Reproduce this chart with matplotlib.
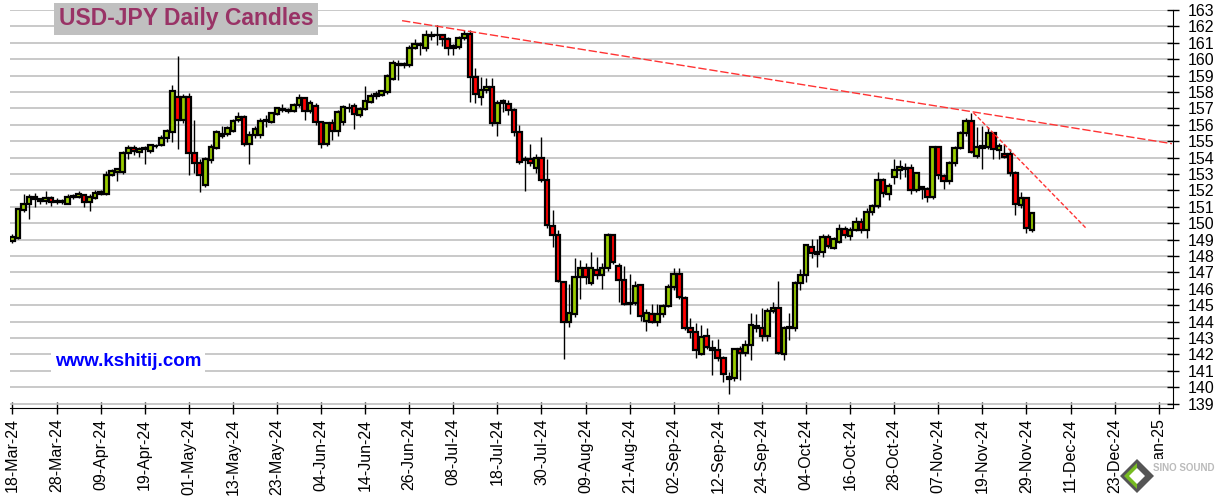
import numpy as np
import matplotlib
matplotlib.use('Agg')
import matplotlib.pyplot as plt
from matplotlib.patches import Polygon, Rectangle

plt.rcParams['font.family'] = ['Liberation Sans', 'DejaVu Sans']

# daily USD-JPY candles, one per weekday starting 18-Mar-24
opens = [
    148.9, 149.1, 150.8, 151.17, 151.6, 151.45, 151.35, 151.55, 151.3, 151.35,
    151.2, 151.6, 151.6, 151.7, 151.3, 151.55, 151.8, 151.8, 152.95, 153.15,
    153.1, 154.25, 154.6, 154.35, 154.55, 154.4, 154.68, 154.75, 155.2, 155.55,
    157.7, 156.3, 157.7, 154.3, 153.7, 152.3, 153.87, 154.6, 155.46, 155.46,
    155.6, 156.32, 156.46, 154.8, 155.35, 155.35, 156.25, 156.2, 156.68, 156.9,
    156.93, 156.82, 157.23, 157.64, 156.82, 157.13, 156.15, 154.83, 156.11, 155.64,
    156.15, 157.05, 157.13, 156.58, 156.99, 157.4, 157.74, 157.84, 157.99, 158.82,
    159.7, 159.65, 159.63, 160.7, 160.85, 160.68, 161.4, 161.5, 161.5, 161.25,
    160.7, 160.75, 161.3, 161.55, 158.92, 157.67, 158.1, 158.3, 156.13, 157.34,
    157.26, 156.9, 155.58, 153.9, 153.9, 153.36, 154.0, 152.66, 149.82, 149.27,
    146.43, 143.98, 144.47, 146.74, 147.25, 146.35, 147.14, 146.84, 147.25, 149.27,
    147.39, 146.54, 145.15, 145.12, 146.23, 144.06, 144.47, 143.96, 144.47, 144.97,
    146.13, 146.9, 145.46, 143.63, 143.39, 142.03, 143.15, 142.38, 142.28, 141.76,
    140.64, 140.54, 142.3, 142.1, 142.6, 143.72, 143.58, 143.12, 144.66, 144.8,
    142.0, 143.58, 143.58, 146.36, 146.87, 148.55, 148.25, 148.25, 149.16, 148.5,
    148.86, 149.67, 149.2, 149.57, 150.1, 149.57, 150.68, 151.03, 152.63, 151.78,
    152.83, 153.24, 153.38, 153.34, 152.02, 152.18, 152.06, 151.57, 154.62, 152.87,
    152.59, 153.69, 154.6, 155.48, 156.25, 154.1, 154.6, 154.66, 155.48, 154.46,
    154.2, 154.2, 153.08, 151.1, 151.55, 149.58]

highs = [
    149.35, 150.95, 151.8, 151.75, 151.85, 151.55, 151.95, 151.65, 151.55, 151.45,
    151.75, 151.75, 151.95, 151.8, 151.75, 152.0, 152.0, 153.2, 153.3, 153.35,
    154.4, 154.75, 154.75, 154.65, 154.7, 154.85, 154.85, 155.4, 155.75, 158.4,
    160.2, 157.9, 157.95, 156.3, 153.9, 154.05, 154.8, 155.7, 155.95, 155.95,
    156.35, 156.8, 156.6, 155.6, 155.9, 156.4, 156.6, 156.8, 157.1, 157.25,
    157.0, 157.35, 157.85, 157.7, 157.5, 157.35, 156.2, 156.2, 156.35, 156.9,
    157.2, 157.3, 157.35, 157.1, 158.35, 157.95, 158.05, 158.15, 159.1, 159.95,
    159.95, 159.85, 160.85, 161.25, 161.05, 161.75, 161.7, 162.1, 161.55, 161.35,
    160.95, 161.4, 161.75, 161.75, 159.45, 158.9, 158.85, 158.85, 157.5, 157.6,
    157.5, 157.05, 156.0, 154.1, 154.8, 154.2, 155.28, 153.9, 150.8, 149.6,
    146.5, 146.3, 147.85, 147.75, 147.6, 148.25, 147.95, 147.6, 149.4, 149.35,
    147.55, 147.4, 146.9, 146.5, 146.3, 144.75, 145.1, 145.05, 145.1, 146.3,
    147.25, 147.25, 145.55, 144.2, 143.9, 143.8, 143.6, 142.9, 142.95, 141.9,
    140.9, 142.35, 142.5, 142.9, 144.5, 144.45, 144.8, 144.8, 145.2, 146.45,
    143.7, 144.5, 146.5, 147.2, 148.75, 149.05, 149.05, 149.35, 149.35, 149.15,
    149.97, 149.8, 149.75, 150.35, 150.3, 150.95, 151.15, 153.1, 152.75, 152.45,
    153.9, 153.85, 153.65, 153.6, 153.1, 152.25, 152.2, 154.7, 154.7, 153.0,
    153.8, 154.7, 155.6, 156.4, 156.74, 155.85, 155.9, 155.85, 155.5, 154.9,
    154.8, 154.5, 153.2, 151.9, 151.6, 150.65]

lows = [
    148.82, 149.05, 150.7, 150.25, 151.0, 151.15, 151.2, 151.05, 151.15, 151.2,
    151.15, 151.45, 151.55, 151.0, 150.75, 151.5, 151.7, 151.7, 152.9, 152.6,
    153.0, 153.9, 154.15, 154.05, 153.6, 154.3, 154.6, 154.7, 154.95, 154.95,
    154.55, 156.1, 152.95, 153.05, 151.9, 152.2, 153.7, 154.5, 155.2, 155.3,
    155.55, 156.2, 154.7, 153.6, 155.2, 155.2, 155.85, 156.1, 156.6, 156.8,
    156.7, 156.75, 157.1, 156.3, 156.7, 156.0, 154.6, 154.7, 155.1, 155.3,
    156.0, 156.8, 155.75, 156.5, 156.9, 157.3, 157.6, 157.75, 157.9, 158.75,
    158.75, 159.45, 159.5, 160.6, 160.24, 160.5, 161.2, 160.85, 160.8, 160.24,
    160.24, 160.6, 161.2, 157.4, 157.35, 157.2, 157.95, 155.95, 155.3, 156.8,
    156.6, 155.3, 153.6, 151.94, 153.5, 153.05, 152.5, 149.7, 148.56, 146.4,
    141.7, 143.66, 144.3, 145.4, 146.3, 146.25, 146.6, 146.0, 147.1, 147.5,
    145.2, 145.0, 144.47, 145.0, 144.06, 143.4, 143.9, 143.7, 144.3, 144.9,
    145.9, 145.4, 143.5, 143.0, 141.77, 141.95, 142.3, 140.73, 141.6, 140.3,
    139.6, 140.35, 140.45, 141.9, 141.65, 143.35, 142.8, 142.8, 144.5, 142.0,
    141.65, 142.9, 143.4, 145.9, 146.4, 147.9, 147.35, 147.95, 148.5, 148.4,
    148.8, 149.1, 149.0, 149.5, 149.4, 149.07, 150.5, 150.9, 151.6, 151.4,
    152.4, 152.7, 152.8, 151.8, 151.9, 151.5, 151.3, 151.45, 152.7, 152.1,
    152.4, 153.5, 154.5, 155.3, 154.3, 154.0, 153.3, 154.5, 153.9, 153.9,
    154.0, 152.9, 150.5, 150.9, 149.4, 149.45]

closes = [
    149.15, 150.85, 151.15, 151.6, 151.45, 151.35, 151.55, 151.3, 151.35, 151.3,
    151.6, 151.65, 151.75, 151.3, 151.6, 151.85, 151.9, 152.95, 153.2, 153.3,
    154.25, 154.6, 154.4, 154.55, 154.6, 154.75, 154.72, 155.2, 155.6, 158.05,
    156.3, 157.7, 154.3, 153.7, 152.95, 153.9, 154.65, 155.55, 155.3, 155.8,
    156.25, 156.46, 154.8, 155.4, 155.75, 156.25, 156.3, 156.72, 157.03, 156.98,
    156.82, 157.23, 157.64, 156.82, 157.33, 156.15, 154.83, 156.11, 155.64, 156.76,
    157.07, 157.0, 156.68, 156.99, 157.44, 157.74, 157.88, 158.05, 159.0, 159.77,
    159.65, 159.7, 160.68, 160.9, 160.95, 161.5, 161.5, 161.45, 161.25, 160.68,
    160.8, 161.3, 161.55, 158.92, 157.87, 158.1, 158.3, 156.13, 157.34, 157.47,
    156.9, 155.58, 153.76, 153.85, 153.7, 153.96, 152.65, 149.88, 149.27, 146.47,
    143.98, 144.5, 146.74, 147.25, 146.74, 147.25, 146.84, 147.25, 149.27, 147.65,
    146.54, 145.08, 145.08, 146.17, 144.37, 144.55, 143.96, 144.47, 144.97, 146.13,
    146.9, 145.52, 143.63, 143.39, 142.28, 143.09, 142.44, 142.28, 141.77, 140.8,
    140.5, 142.3, 142.1, 142.6, 143.79, 143.58, 143.12, 144.66, 144.8, 142.1,
    143.58, 143.68, 146.36, 146.87, 148.65, 148.19, 148.15, 149.16, 148.6, 149.06,
    149.67, 149.3, 149.57, 150.1, 149.57, 150.68, 151.03, 152.63, 151.82, 152.26,
    153.24, 153.4, 153.28, 152.02, 153.04, 152.06, 151.57, 154.62, 152.93, 152.59,
    153.69, 154.6, 155.48, 156.25, 154.36, 154.62, 154.7, 155.48, 154.5, 154.7,
    154.05, 153.08, 151.15, 151.55, 149.72, 150.6]

# x tick labels, every 8th weekday
tick_labels = ['18-Mar-24', '28-Mar-24', '09-Apr-24', '19-Apr-24', '01-May-24',
               '13-May-24', '23-May-24', '04-Jun-24', '14-Jun-24', '26-Jun-24',
               '08-Jul-24', '18-Jul-24', '30-Jul-24', '09-Aug-24', '21-Aug-24',
               '02-Sep-24', '12-Sep-24', '24-Sep-24', '04-Oct-24', '16-Oct-24',
               '28-Oct-24', '07-Nov-24', '19-Nov-24', '29-Nov-24', '11-Dec-24',
               '23-Dec-24', '03-Jan-25']

# trend lines (bar index, price)
trend1_x = [70.7, 210.4]
trend1_y = [162.35, 154.85]
trend2_x = [174.4, 194.9]
trend2_y = [156.73, 149.67]

o = np.array(opens)
h = np.array(highs)
l = np.array(lows)
c = np.array(closes)
x = np.arange(len(o))

fig = plt.figure(figsize=(12.19, 4.97), dpi=100)
ax = fig.add_axes([10/1219, 1-408/497, 1163/1219, 398/497])

up = c >= o
colors = np.where(up, '#99cc00', '#ff0000')

# wicks first, bodies over them
ax.vlines(x, l, h, color='black', lw=1, zorder=2)
ax.bar(x, np.abs(c - o), bottom=np.minimum(o, c), width=0.85,
       color=colors, edgecolor='black', linewidth=1.6, zorder=3)

ax.plot(trend1_x, trend1_y, color='#ff3333', lw=1, dashes=(6, 2), zorder=4)
ax.plot(trend2_x, trend2_y, color='#ff3333', lw=1, dashes=(3, 1.5), zorder=4)

ax.set_xlim(-0.45, 210.6)
ax.set_ylim(138.73, 163)
ax.set_yticks(np.arange(139, 164, 1))
ax.yaxis.tick_right()
ax.yaxis.grid(True, color='#c0c0c0', lw=1.2)
ax.set_axisbelow(True)
ax.set_xticks(np.arange(0, 8*len(tick_labels), 8))
ax.set_xticklabels(tick_labels, rotation=90)
ax.tick_params(axis='both', direction='inout', length=9, width=1,
               labelsize=11.5, colors='black')
ax.tick_params(axis='y', pad=6)
ax.tick_params(axis='x', pad=3)
ax.spines['left'].set_visible(False)
ax.spines['top'].set_visible(False)

fig.text(186/1219, 1-19/497, 'USD-JPY Daily Candles', color='#993366',
         fontsize=16.5, fontweight='bold', ha='center', va='center',
         bbox=dict(boxstyle='square,pad=0.2', facecolor='#c0c0c0', edgecolor='none'))

fig.text(128/1219, 1-361/497, 'www.kshitij.com', color='#0000ff',
         fontsize=13.5, fontweight='bold', ha='center', va='center',
         bbox=dict(boxstyle='square,pad=0.2', facecolor='white', edgecolor='none'))

# small watermark logo bottom right, on a white patch over the last labels
def px(xp, yp):
    return (xp/1219, 1-yp/497)

fig.patches.append(Rectangle(px(1126, 497), 93/1219, 38/497, transform=fig.transFigure,
                             facecolor='white', edgecolor='none', zorder=4))
fig.patches.append(Polygon([px(1137, 459), px(1154, 476), px(1137, 493), px(1120, 476)],
                           closed=True, transform=fig.transFigure,
                           facecolor='#555555', edgecolor='none', zorder=5))
fig.patches.append(Polygon([px(1137, 463), px(1137, 489), px(1124, 476)],
                           closed=True, transform=fig.transFigure,
                           facecolor='#77bb22', edgecolor='none', zorder=6))
fig.patches.append(Polygon([px(1137, 468), px(1145, 476), px(1137, 484), px(1129, 476)],
                           closed=True, transform=fig.transFigure,
                           facecolor='white', edgecolor='none', zorder=7))
fig.text(1184/1219, 1-468/497, 'SINO SOUND', color='#bbbbbb', fontsize=7,
         fontweight='bold', ha='center', va='center', zorder=8)

fig.savefig('out.png', dpi=100, facecolor='white')
